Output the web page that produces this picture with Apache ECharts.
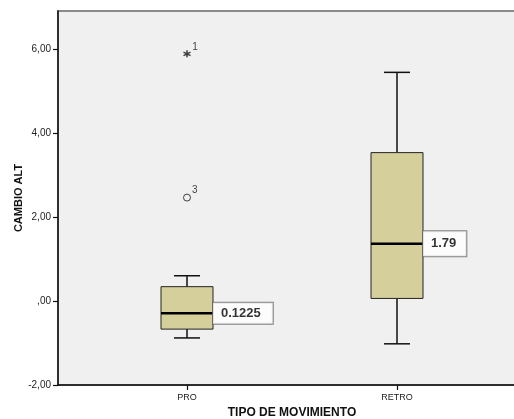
<!DOCTYPE html>
<html>
<head>
<meta charset="utf-8">
<script src="https://cdn.jsdelivr.net/npm/echarts@6/dist/echarts.min.js"></script>
<style>
  html, body { margin: 0; padding: 0; background: #fff; }
  #chart { width: 514px; height: 419px; }
</style>
</head>
<body>
<div id="chart"></div>
<script>
// data
var categories = ['PRO', 'RETRO']
var whiskerLow = [-0.88, -1.02]
var q1 = [-0.67, 0.06]
var median = [-0.29, 1.36]
var q3 = [0.34, 3.53]
var whiskerHigh = [0.60, 5.44]
var meanLabels = ['0.1225', '1.79']
var outlierCats = [0, 0]
var outlierValues = [5.88, 2.46]
var outlierIds = ['1', '3']
var outlierKinds = ['star', 'circle']
var yTicks = [-2, 0, 2, 4, 6]

var FONT = '"Liberation Sans", Arial, sans-serif'
var starPath = 'path://M5,0L5,10M0.7,2.5L9.3,7.5M0.7,7.5L9.3,2.5'

;(function(){
  var myChart = echarts.init(document.getElementById('chart'))

  var boxData = categories.map(function(c, i) {
    return [i, whiskerLow[i], q1[i], median[i], q3[i], whiskerHigh[i]]
  })

  var outlierData = outlierValues.map(function(v, i) {
    var star = outlierKinds[i] === 'star'
    return {
      value: [outlierCats[i], v],
      symbol: star ? starPath : 'circle',
      symbolSize: 7,
      itemStyle: {
        color: star ? 'rgba(0,0,0,0)' : '#f0f0f0',
        borderColor: '#111',
        borderWidth: star ? 1.5 : 1
      },
      label: { formatter: outlierIds[i] }
    }
  })

  var labelPads = [[4, 12, 4, 8], [6, 10, 6, 8]]
  var meanData = median.map(function(m, i) {
    return {
      value: [i, m],
      label: { formatter: meanLabels[i], padding: labelPads[i] }
    }
  })

  function fmt(v) {
    if (v === 0) return ',00'
    return v.toFixed(2).replace('.', ',')
  }

  var option = {
    animation: false,
    backgroundColor: '#fff',
    grid: [{
      // frame
      left: 58, top: 11, right: -10, bottom: 34,
      outerBoundsMode: 'none',
      show: true,
      backgroundColor: '#f0f0f0',
      borderColor: '#8a8a8a',
      borderWidth: 2
    }, {
      // data
      left: 82, top: 11, right: 12, bottom: 34,
      outerBoundsMode: 'none'
    }],
    xAxis: [{
      gridIndex: 0,
      type: 'value',
      min: 0, max: 1,
      axisLine: { show: true, onZero: false, lineStyle: { color: '#111', width: 1.5 } },
      axisTick: { show: false },
      axisLabel: { show: false },
      splitLine: { show: false }
    }, {
      gridIndex: 1,
      type: 'category',
      data: categories,
      boundaryGap: true,
      axisLine: { show: false, onZero: false },
      axisTick: { show: true, alignWithLabel: true, length: 5, lineStyle: { color: '#111', width: 1.2 } },
      axisLabel: { color: '#222', fontSize: 9, fontFamily: FONT, margin: 8 },
      name: 'TIPO DE MOVIMIENTO',
      nameLocation: 'middle',
      nameGap: 22,
      nameMoveOverlap: false,
      nameTextStyle: { color: '#111', fontSize: 12, fontWeight: 'bold', fontFamily: FONT }
    }],
    yAxis: [{
      gridIndex: 0,
      type: 'value',
      min: -2, max: 6.9,
      axisLine: { show: true, onZero: false, lineStyle: { color: '#111', width: 1.5 } },
      axisTick: { show: true, length: 5, customValues: yTicks, lineStyle: { color: '#111', width: 1.2 } },
      axisLabel: { color: '#222', fontSize: 10, fontFamily: FONT, margin: 7, customValues: yTicks, formatter: fmt },
      splitLine: { show: false },
      name: 'CAMBIO ALT',
      nameLocation: 'middle',
      nameGap: 34,
      nameMoveOverlap: false,
      nameTextStyle: { color: '#111', fontSize: 11, fontWeight: 'bold', fontFamily: FONT }
    }, {
      gridIndex: 1,
      type: 'value',
      min: -2, max: 6.9,
      show: false
    }],
    series: [{
      type: 'custom',
      xAxisIndex: 1, yAxisIndex: 1,
      data: boxData,
      renderItem: function(params, api) {
        var x = api.value(0)
        var lo = api.coord([x, api.value(1)])
        var b1 = api.coord([x, api.value(2)])
        var md = api.coord([x, api.value(3)])
        var b3 = api.coord([x, api.value(4)])
        var hi = api.coord([x, api.value(5)])
        var half = 26, cap = 13, cx = lo[0]
        var line = { stroke: '#111', lineWidth: 1.5 }
        return {
          type: 'group',
          children: [
            { type: 'line', shape: { x1: cx, y1: hi[1], x2: cx, y2: b3[1] }, style: line },
            { type: 'line', shape: { x1: cx, y1: b1[1], x2: cx, y2: lo[1] }, style: line },
            { type: 'line', shape: { x1: cx - cap, y1: hi[1], x2: cx + cap, y2: hi[1] }, style: line },
            { type: 'line', shape: { x1: cx - cap, y1: lo[1], x2: cx + cap, y2: lo[1] }, style: line },
            { type: 'rect', shape: { x: cx - half, y: b3[1], width: half * 2, height: b1[1] - b3[1] },
              style: { fill: '#d4cf9b', stroke: '#222', lineWidth: 1 } },
            { type: 'line', shape: { x1: cx - half, y1: md[1], x2: cx + half, y2: md[1] },
              style: { stroke: '#000', lineWidth: 2.5 } }
          ]
        }
      }
    }, {
      type: 'scatter',
      xAxisIndex: 1, yAxisIndex: 1,
      data: outlierData,
      label: {
        show: true,
        position: 'right',
        distance: 1,
        offset: [0, -7],
        color: '#111',
        fontSize: 10,
        fontFamily: FONT
      },
      z: 5
    }, {
      type: 'scatter',
      xAxisIndex: 1, yAxisIndex: 1,
      data: meanData,
      symbolSize: 0,
      label: {
        show: true,
        position: 'right',
        distance: 26,
        color: '#000',
        fontSize: 13,
        fontWeight: 'bold',
        fontFamily: FONT,
        backgroundColor: '#fff',
        borderColor: '#666',
        borderWidth: 1
      },
      z: 6
    }]
  }
  myChart.setOption(option)
})();
</script>
</body>
</html>
